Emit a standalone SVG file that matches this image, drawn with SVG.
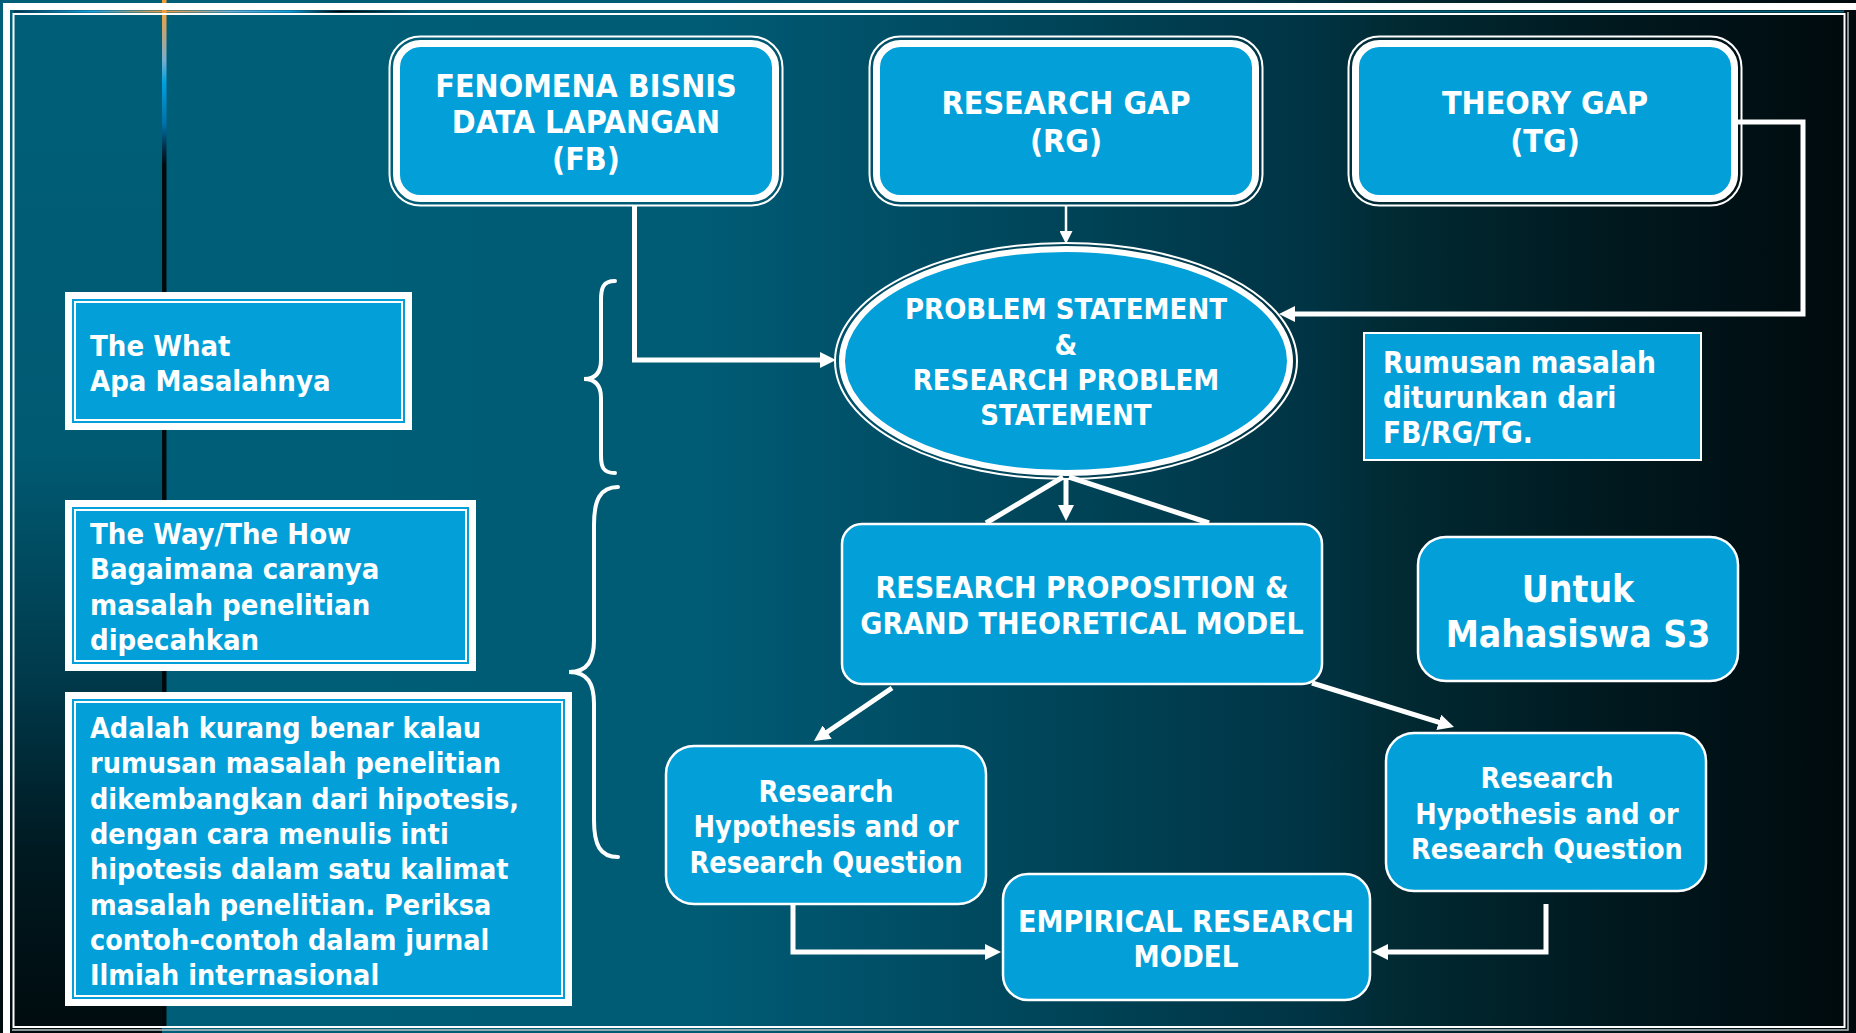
<svg xmlns="http://www.w3.org/2000/svg" width="1856" height="1033" viewBox="0 0 1856 1033">
<style>
.t{font-family:"DejaVu Sans Condensed","DejaVu Sans",sans-serif;font-weight:bold;fill:#fff}
.c{text-anchor:middle}
.blue{fill:#029fd8}
.wb{fill:#029fd8;stroke:#fff}
.thin{fill:none;stroke:#fff;stroke-width:2}
.ln{fill:none;stroke:#fff;stroke-width:5;stroke-linejoin:miter}
.br{fill:none;stroke:#fff;stroke-width:4;stroke-linecap:round}
</style>
<defs>
<linearGradient id="bgMain" gradientUnits="userSpaceOnUse" x1="162" y1="0" x2="1850" y2="0">
<stop offset="0" stop-color="#005f78"/>
<stop offset="0.32" stop-color="#005b74"/>
<stop offset="0.396" stop-color="#00536b"/>
<stop offset="0.68" stop-color="#003444"/>
<stop offset="0.73" stop-color="#012a33"/>
<stop offset="0.85" stop-color="#001a20"/>
<stop offset="1" stop-color="#000a0d"/>
</linearGradient>
<linearGradient id="bgLeft" gradientUnits="userSpaceOnUse" x1="0" y1="0" x2="0" y2="1033">
<stop offset="0" stop-color="#005f78"/>
<stop offset="0.44" stop-color="#005a72"/>
<stop offset="0.66" stop-color="#00394a"/>
<stop offset="0.82" stop-color="#001a22"/>
<stop offset="1" stop-color="#000b0e"/>
</linearGradient>
<linearGradient id="vline" gradientUnits="userSpaceOnUse" x1="0" y1="0" x2="0" y2="1033">
<stop offset="0" stop-color="#f59a30"/>
<stop offset="0.013" stop-color="#f0a040"/>
<stop offset="0.058" stop-color="#78aed0"/>
<stop offset="0.08" stop-color="#00a0e0"/>
<stop offset="0.12" stop-color="#0070a8"/>
<stop offset="0.145" stop-color="#002a40"/>
<stop offset="0.16" stop-color="#00090c"/>
<stop offset="1" stop-color="#000a0d"/>
</linearGradient>
<linearGradient id="hline" gradientUnits="userSpaceOnUse" x1="14" y1="0" x2="420" y2="0">
<stop offset="0" stop-color="#06304a"/>
<stop offset="0.19" stop-color="#1aa0dc"/>
<stop offset="0.37" stop-color="#f39a3a"/>
<stop offset="0.54" stop-color="#6aaed8"/>
<stop offset="0.68" stop-color="#109ad8"/>
<stop offset="0.8" stop-color="#000000"/>
<stop offset="1" stop-color="#005f78"/>
</linearGradient>
<marker id="ah" markerUnits="userSpaceOnUse" viewBox="0 0 16 16" markerWidth="16" markerHeight="16" refX="3" refY="8" orient="auto">
<path d="M0,0 L16,8 L0,16 z" fill="#fff"/>
</marker>
<marker id="ahs" markerUnits="userSpaceOnUse" viewBox="0 0 13 13" markerWidth="13" markerHeight="13" refX="3" refY="6.5" orient="auto">
<path d="M0,0 L13,6.5 L0,13 z" fill="#fff"/>
</marker>
</defs>

<g id="background">
<rect x="0" y="0" width="1856" height="1033" fill="url(#bgMain)"/>
<rect x="0" y="0" width="162" height="1033" fill="url(#bgLeft)"/>
<rect x="162" y="0" width="4.5" height="1028" fill="url(#vline)"/>
<rect x="14" y="10.5" width="1830" height="2" fill="url(#hline)"/>
<rect x="3" y="3" width="1853" height="7" fill="#fff"/>
<rect x="3" y="3" width="7" height="1030" fill="#fff"/>
<rect x="13.5" y="14" width="1831" height="1013" fill="none" stroke="#fff" stroke-width="2"/>
<polyline points="1848,12 1848,1030 12,1030" fill="none" stroke="#b8c2c4" stroke-width="1.5"/>
</g>

<g id="connectors">
<path class="ln" d="M634.5,206 V360 H823" marker-end="url(#ah)"/>
<path d="M1066,206 V234" fill="none" stroke="#fff" stroke-width="2.5" marker-end="url(#ahs)"/>
<path class="ln" d="M1738,122 H1803 V314 H1292" stroke-width="4.5" marker-end="url(#ah)"/>
<path class="ln" d="M1066,479 V508" marker-end="url(#ah)"/>
<path class="ln" d="M1063,477 L986,523"/>
<path class="ln" d="M1069,477 L1209,523"/>
<path class="ln" d="M892,688 L824.7,733.7" marker-end="url(#ah)"/>
<path class="ln" d="M1312,683 L1441.6,723.2" marker-end="url(#ah)"/>
<path class="ln" d="M793,904 V952 H988" marker-end="url(#ah)"/>
<path class="ln" d="M1546,904 V952 H1385" marker-end="url(#ah)"/>
<path class="br" d="M615,281 C603,281 601,288 601,300 L601,360 C601,372 596,379 584,379 C596,379 601,386 601,398 L601,455 C601,467 603,473 615,473"/>
<path class="br" d="M618,487 C600,487 594,500 594,525 L594,640 C594,660 588,672 569,672 C588,672 594,684 594,704 L594,820 C594,845 600,857 618,857"/>
</g>

<g id="fb">
<rect class="thin" x="389.5" y="36.5" width="393" height="169" rx="31"/>
<rect class="wb" stroke-width="7" x="396.5" y="43.5" width="379" height="155" rx="24"/>
<text class="t c" font-size="32" x="586" y="97">FENOMENA BISNIS</text>
<text class="t c" font-size="32" x="586" y="133">DATA LAPANGAN</text>
<text class="t c" font-size="32" x="586" y="170">(FB)</text>
</g>

<g id="rg">
<rect class="thin" x="869.5" y="36.5" width="393" height="169" rx="31"/>
<rect class="wb" stroke-width="7" x="876.5" y="43.5" width="379" height="155" rx="24"/>
<text class="t c" font-size="32" x="1066" y="114">RESEARCH GAP</text>
<text class="t c" font-size="32" x="1066" y="152">(RG)</text>
</g>

<g id="tg">
<rect class="thin" x="1348.5" y="36.5" width="393" height="169" rx="31"/>
<rect class="wb" stroke-width="7" x="1355.5" y="43.5" width="379" height="155" rx="24"/>
<text class="t c" font-size="32" x="1545" y="114">THEORY GAP</text>
<text class="t c" font-size="32" x="1545" y="152">(TG)</text>
</g>

<g id="problem">
<ellipse class="thin" cx="1066" cy="361" rx="231" ry="118"/>
<ellipse class="wb" stroke-width="6" cx="1066" cy="361" rx="224" ry="112"/>
<text class="t c" font-size="29" x="1066" y="319">PROBLEM STATEMENT</text>
<text class="t c" font-size="29" x="1066" y="355">&amp;</text>
<text class="t c" font-size="29" x="1066" y="390">RESEARCH PROBLEM</text>
<text class="t c" font-size="29" x="1066" y="425">STATEMENT</text>
</g>

<g id="what">
<rect class="wb" stroke-width="7" x="68.5" y="295.5" width="340" height="131"/>
<rect class="thin" x="75" y="302" width="327" height="118"/>
<text class="t" font-size="29" x="90" y="356">The What</text>
<text class="t" font-size="29" x="90" y="391">Apa Masalahnya</text>
</g>

<g id="how">
<rect class="wb" stroke-width="7" x="68.5" y="503.5" width="404" height="164"/>
<rect class="thin" x="75" y="510" width="391" height="151"/>
<text class="t" font-size="29" x="90" y="544">The Way/The How</text>
<text class="t" font-size="29" x="90" y="579">Bagaimana caranya</text>
<text class="t" font-size="29" x="90" y="615">masalah penelitian</text>
<text class="t" font-size="29" x="90" y="650">dipecahkan</text>
</g>

<g id="note">
<rect class="wb" stroke-width="7" x="68.5" y="695.5" width="500" height="307"/>
<rect class="thin" x="75" y="702" width="487" height="294"/>
<text class="t" font-size="28.5" x="90" y="738">Adalah kurang benar kalau</text>
<text class="t" font-size="28.5" x="90" y="773.3">rumusan masalah penelitian</text>
<text class="t" font-size="28.5" x="90" y="808.6">dikembangkan dari hipotesis,</text>
<text class="t" font-size="28.5" x="90" y="843.9">dengan cara menulis inti</text>
<text class="t" font-size="28.5" x="90" y="879.2">hipotesis dalam satu kalimat</text>
<text class="t" font-size="28.5" x="90" y="914.5">masalah penelitian. Periksa</text>
<text class="t" font-size="28.5" x="90" y="949.8">contoh-contoh dalam jurnal</text>
<text class="t" font-size="28.5" x="90" y="985.1">Ilmiah internasional</text>
</g>

<g id="rumusan">
<rect class="wb" stroke-width="2" x="1364" y="333" width="337" height="127"/>
<text class="t" font-size="29.5" x="1383" y="373">Rumusan masalah</text>
<text class="t" font-size="29.5" x="1383" y="408">diturunkan dari</text>
<text class="t" font-size="29.5" x="1383" y="443">FB/RG/TG.</text>
</g>

<g id="proposition">
<rect class="wb" stroke-width="2.5" x="842" y="524" width="480" height="160" rx="20"/>
<text class="t c" font-size="30" x="1082" y="598">RESEARCH PROPOSITION &amp;</text>
<text class="t c" font-size="30" x="1082" y="634">GRAND THEORETICAL MODEL</text>
</g>

<g id="s3">
<rect class="wb" stroke-width="2.5" x="1418" y="537" width="320" height="144" rx="28"/>
<text class="t c" font-size="37" x="1578" y="602">Untuk</text>
<text class="t c" font-size="37" x="1578" y="647">Mahasiswa S3</text>
</g>

<g id="hyp-left">
<rect class="wb" stroke-width="2.5" x="666" y="746" width="320" height="158" rx="28"/>
<text class="t c" font-size="30" x="826" y="802" textLength="135" lengthAdjust="spacingAndGlyphs">Research</text>
<text class="t c" font-size="30" x="826" y="837" textLength="265" lengthAdjust="spacingAndGlyphs">Hypothesis and or</text>
<text class="t c" font-size="30" x="826" y="873" textLength="273" lengthAdjust="spacingAndGlyphs">Research Question</text>
</g>

<g id="hyp-right">
<rect class="wb" stroke-width="2.5" x="1386" y="733" width="320" height="158" rx="28"/>
<text class="t c" font-size="28.5" x="1547" y="788">Research</text>
<text class="t c" font-size="28.5" x="1547" y="824">Hypothesis and or</text>
<text class="t c" font-size="28.5" x="1547" y="859">Research Question</text>
</g>

<g id="empirical">
<rect class="wb" stroke-width="2.5" x="1003" y="874" width="367" height="126" rx="25"/>
<text class="t c" font-size="30" x="1186" y="932" textLength="336" lengthAdjust="spacingAndGlyphs">EMPIRICAL RESEARCH</text>
<text class="t c" font-size="30" x="1186" y="967" textLength="105" lengthAdjust="spacingAndGlyphs">MODEL</text>
</g>
</svg>
